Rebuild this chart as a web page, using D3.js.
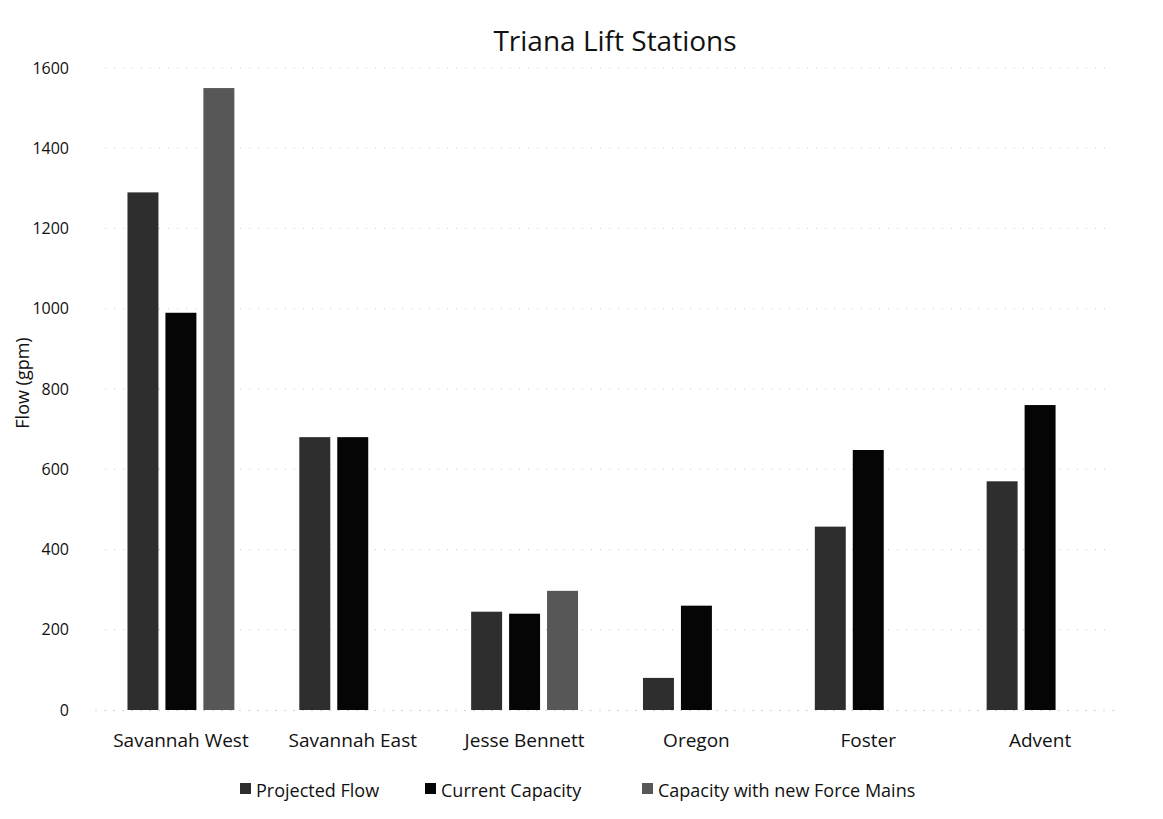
<!DOCTYPE html>
<html>
<head>
<meta charset="utf-8">
<script src="https://cdn.jsdelivr.net/npm/d3@7"></script>
<style>
  body { margin: 0; background: #fff; }
  text { font-family: "Open Sans", Lato, sans-serif; fill: #111; }
</style>
</head>
<body>
<svg id="chart" width="1163" height="819"></svg>
<script>
const categories = ["Savannah West", "Savannah East", "Jesse Bennett", "Oregon", "Foster", "Advent"];
const seriesNames = ["Projected Flow", "Current Capacity", "Capacity with new Force Mains"];
const projectedFlow = [1290, 680, 245, 80, 457, 570];
const currentCapacity = [990, 680, 240, 260, 648, 760];
const capacityNewForceMains = [1550, null, 297, null, null, null];
const yTicks = [0, 200, 400, 600, 800, 1000, 1200, 1400, 1600];
const colors = ["#2e2e2e", "#050505", "#575757"];

(function () {
const seriesValues = [projectedFlow, currentCapacity, capacityNewForceMains];
const svg = d3.select("#chart");
const mLeft = 95, mRight = 1126, mTop = 68, mBottom = 710;
const FONT = "'Open Sans', Lato, sans-serif";

const y = d3.scaleLinear().domain([0, 1600]).range([mBottom, mTop]);
const x0 = d3.scaleBand().domain(categories).range([mLeft, mRight])
  .paddingInner(0.378).paddingOuter(0.189);
const x1 = d3.scaleBand().domain(seriesNames).range([0, x0.bandwidth()])
  .paddingInner(0.184).paddingOuter(0);

// gridlines (faint dotted, as in scan)
svg.append("g").selectAll("line").data(yTicks.filter(d => d > 0)).join("line")
  .attr("x1", mLeft + 10).attr("x2", mRight - 15)
  .attr("y1", d => y(d)).attr("y2", d => y(d))
  .attr("stroke", "#cccccc").attr("stroke-width", 1)
  .attr("stroke-dasharray", "1,8");

// y-axis labels
const yAxis = d3.axisLeft(y).tickValues(yTicks).tickFormat(d3.format("d")).tickSize(0).tickPadding(0);
const gy = svg.append("g").attr("transform", "translate(69,0)").call(yAxis);
gy.select(".domain").remove();
gy.selectAll("text").attr("font-size", 16).style("font-family", FONT).attr("fill", "#111");

// bars
const rows = categories.map((c, i) => ({ c, vals: seriesNames.map((s, j) => ({ s, j, v: seriesValues[j][i] })) }));
svg.append("g").selectAll("g").data(rows).join("g")
  .attr("transform", d => `translate(${x0(d.c)},0)`)
  .selectAll("rect").data(d => d.vals.filter(v => v.v != null)).join("rect")
  .attr("x", d => x1(d.s)).attr("width", x1.bandwidth())
  .attr("y", d => y(d.v)).attr("height", d => y(0) - y(d.v))
  .attr("fill", d => colors[d.j]);

// baseline
svg.append("line").attr("x1", mLeft).attr("x2", mRight - 10).attr("y1", mBottom + 0.5).attr("y2", mBottom + 0.5)
  .attr("stroke", "#d5d5d5").attr("stroke-dasharray", "2,7");

// x axis labels
const xAxis = d3.axisBottom(x0).tickSize(0).tickPadding(0);
const gx = svg.append("g").attr("transform", `translate(0,${mBottom + 23})`).call(xAxis);
gx.select(".domain").remove();
gx.selectAll("text").attr("font-size", 19).style("font-family", FONT).attr("fill", "#111");

// title
svg.append("text").attr("x", 615).attr("y", 51).attr("text-anchor", "middle")
  .attr("font-size", 28).text("Triana Lift Stations");

// y title
svg.append("text").attr("transform", "translate(29,383) rotate(-90)")
  .attr("text-anchor", "middle").attr("font-size", 18).text("Flow (gpm)");

// legend
const legendX = [240, 425, 642];
const lg = svg.append("g").selectAll("g").data(seriesNames).join("g")
  .attr("transform", (d, i) => `translate(${legendX[i]},797)`);
lg.append("rect").attr("x", 0).attr("y", -14).attr("width", 11).attr("height", 11)
  .attr("fill", (d, i) => colors[i]);
lg.append("text").attr("x", 16).attr("y", 0).attr("font-size", 18).text(d => d);
})();
</script>
</body>
</html>
